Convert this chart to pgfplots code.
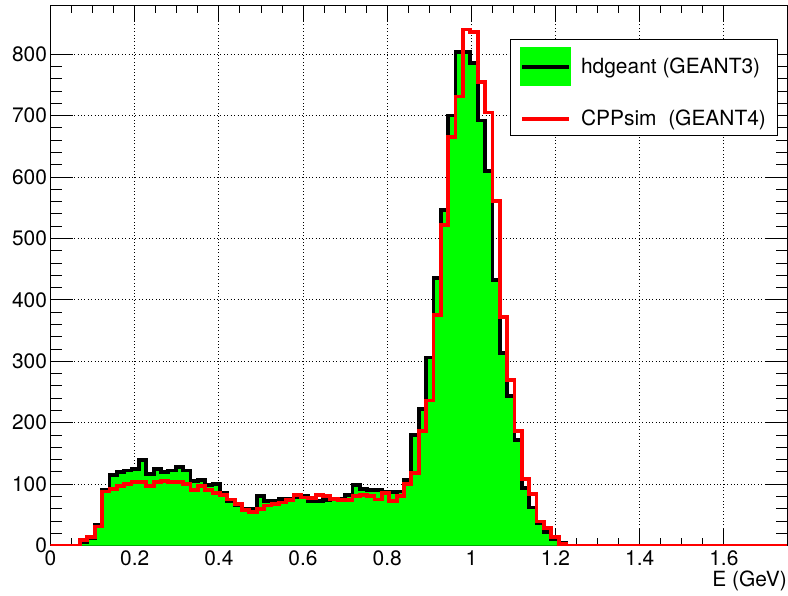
\documentclass[border=0pt]{standalone}
\usepackage{pgfplots}
\pgfplotsset{compat=1.18}
\usepackage{pgfplotstable}
\usepackage{fontspec}
\setmainfont{TeX Gyre Heros}
\definecolor{rootgreen}{RGB}{0,255,0}
\definecolor{rootred}{RGB}{255,0,0}

% left bin edge, hdgeant (GEANT3), CPPsim (GEANT4); bin width 0.0175
\pgfplotstableread{
x black red
0.0000 0 0
0.0175 0 0
0.0350 0 0
0.0525 0 0
0.0700 5 9
0.0875 12 14
0.1050 33 31
0.1225 90 88
0.1400 115 92
0.1575 120 97
0.1750 122 100
0.1925 124 104
0.2100 139 104
0.2275 117 97
0.2450 124 104
0.2625 120 105
0.2800 122 104
0.2975 128 103
0.3150 122 100
0.3325 105 90
0.3500 107 97
0.3675 98 90
0.3850 100 85
0.4025 85 82
0.4200 72 75
0.4375 65 67
0.4550 60 58
0.4725 60 55
0.4900 80 60
0.5075 72 65
0.5250 72 67
0.5425 76 70
0.5600 76 74
0.5775 79 82
0.5950 80 78
0.6125 72 77
0.6300 72 82
0.6475 74 80
0.6650 76 76
0.6825 76 74
0.7000 82 74
0.7175 98 80
0.7350 92 82
0.7525 90 80
0.7700 90 75
0.7875 87 86
0.8050 87 72
0.8225 88 80
0.8400 107 100
0.8575 180 118
0.8750 222 186
0.8925 306 236
0.9100 435 375
0.9275 546 522
0.9450 700 665
0.9625 803 731
0.9800 803 840
0.9975 785 836
1.0150 692 755
1.0325 610 705
1.0500 432 561
1.0675 313 372
1.0850 244 269
1.1025 172 186
1.1200 94 108
1.1375 62 84
1.1550 36 39
1.1725 22 29
1.1900 11 14
1.2075 4 2
1.2250 0 0
1.7500 0 0
}\histdata

\begin{document}
\begin{tikzpicture}
\useasboundingbox (-50.5bp,-50.5bp) rectangle (737.5bp,545.5bp);
\begin{axis}[
  scale only axis, width=736.5bp, height=540.5bp,
  at={(0,0)}, anchor=south west,
  xmin=0, xmax=1.75, ymin=0, ymax=880,
  xtick={0,0.2,0.4,0.6,0.8,1,1.2,1.4,1.6},
  minor x tick num=3,
  ytick={0,100,200,300,400,500,600,700,800},
  minor y tick num=4,
  grid=major,
  major grid style={black, line width=0.8bp, dash pattern=on 0.8bp off 2.6bp},
  axis line style={line width=0.8bp},
  tick style={black, line width=0.8bp},
  major tick length=16bp, minor tick length=8bp,
  ytick style={/pgfplots/major tick length=22bp, /pgfplots/minor tick length=11bp},
  tick label style={font=\fontsize{21}{21}\selectfont},
  xticklabel style={yshift=-1.5bp},
  yticklabel style={xshift=0bp},
  /pgf/number format/assume math mode=true,
  xlabel={E (GeV)},
  xlabel style={font=\fontsize{21}{21}\selectfont, at={(rel axis cs:1,0)}, anchor=north east, yshift=-25bp, inner sep=0pt},
  legend style={at={(0.9878,0.937)}, anchor=north east, draw=black, line width=0.8bp,
    fill=white, font=\fontsize{21}{21}\selectfont, inner xsep=9.7bp, inner ysep=8bp,
    row sep=24bp, nodes={inner sep=0pt},
    /tikz/every odd column/.append style={column sep=10bp}},
  legend cell align=left,
]
\addplot[const plot, fill=rootgreen, draw=none, forget plot] table[x=x, y=black] {\histdata} \closedcycle;
\addplot[const plot, black, line width=3.8bp,
  legend image code/.code={\fill[rootgreen] (0bp,-17.5bp) rectangle (47bp,17.5bp); \draw[black, line width=4bp] (0bp,0bp) -- (47bp,0bp);}]
  table[x=x, y=black] {\histdata};
\addlegendentry{hdgeant (GEANT3)\hspace*{2bp}}
\addplot[const plot, rootred, line width=3.8bp,
  legend image code/.code={\draw[rootred, line width=3.5bp] (0bp,0bp) -- (47bp,0bp);}]
  table[x=x, y=red] {\histdata};
\addlegendentry{CPPsim\ \ (GEANT4)\hspace*{2bp}}
\end{axis}
\end{tikzpicture}
\end{document}
